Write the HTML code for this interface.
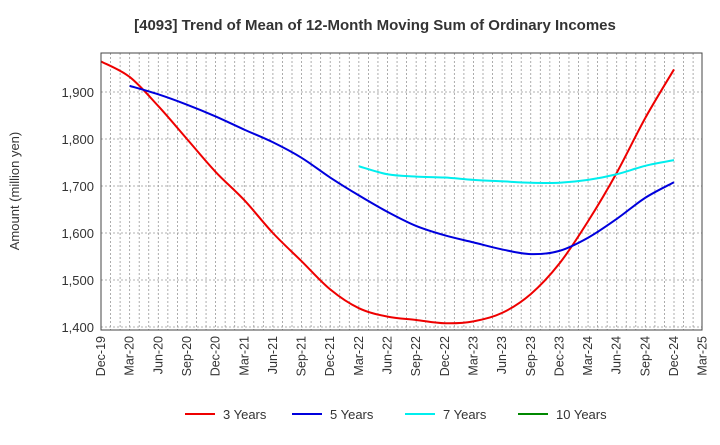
<!DOCTYPE html>
<html><head><meta charset="utf-8"><style>
body{margin:0;background:#fff;font-family:"Liberation Sans",Arial,sans-serif}
svg text{font-family:"Liberation Sans",Arial,sans-serif}
</style></head><body>
<svg width="720" height="440" viewBox="0 0 720 440">
<text x="375" y="30" text-anchor="middle" font-size="15" font-weight="bold" fill="#333">[4093]  Trend of Mean of 12-Month Moving Sum of Ordinary Incomes</text>
<g id="grid"></g>
<g id="yticks"></g>
<g id="xticks"></g>
<g id="series"></g>
<rect x="101" y="53" width="601" height="277" fill="none" stroke="#444" stroke-width="1"/>
<text transform="translate(19,191) rotate(-90)" text-anchor="middle" font-size="13" fill="#333">Amount (million yen)</text>
<g>
<g><line x1="185" y1="414" x2="215" y2="414" stroke="#e00" stroke-width="2"/><text x="223" y="419" font-size="13" fill="#333">3 Years</text></g>
<g><line x1="292" y1="414" x2="322" y2="414" stroke="#00d" stroke-width="2"/><text x="330" y="419" font-size="13" fill="#333">5 Years</text></g>
<g><line x1="405" y1="414" x2="435" y2="414" stroke="#0ee" stroke-width="2"/><text x="443" y="419" font-size="13" fill="#333">7 Years</text></g>
<g><line x1="518" y1="414" x2="548" y2="414" stroke="#080" stroke-width="2"/><text x="556" y="419" font-size="13" fill="#333">10 Years</text></g>
</g>
</svg>
<script>
const xLabels=["Dec-19","Mar-20","Jun-20","Sep-20","Dec-20","Mar-21","Jun-21","Sep-21","Dec-21","Mar-22","Jun-22","Sep-22","Dec-22","Mar-23","Jun-23","Sep-23","Dec-23","Mar-24","Jun-24","Sep-24","Dec-24","Mar-25"];
const yTicks=[1400,1500,1600,1700,1800,1900];
const s3=[1965,1932,1870,1800,1730,1670,1600,1540,1480,1440,1422,1415,1408,1412,1430,1470,1535,1625,1728,1845,1948];
const s5=[null,1913,1895,1873,1848,1820,1793,1760,1718,1680,1645,1615,1595,1580,1565,1555,1562,1590,1630,1675,1708];
const s7=[null,null,null,null,null,null,null,null,null,1742,1725,1720,1718,1713,1710,1707,1707,1713,1725,1743,1755];
const NS="http://www.w3.org/2000/svg";
function xq(i){return 101+i*3*9.55;}
function xm(m){return 101+m*9.55;}
function y(v){return 327-(v-1400)*0.47;}
function mk(t,a){const e=document.createElementNS(NS,t);for(const k in a)e.setAttribute(k,a[k]);return e;}
const grid=document.getElementById('grid');
for(let m=1;m<63;m++){const l=mk('line',{x1:xm(m),x2:xm(m),y1:53,y2:330,stroke:'#999','stroke-dasharray':'2,2','stroke-width':0.8});


grid.appendChild(l);}
const yt=document.getElementById('yticks');
yTicks.forEach(v=>{const l=mk('line',{x1:101,x2:702,y1:y(v),y2:y(v),stroke:'#999','stroke-dasharray':'2,2','stroke-width':0.8});


grid.appendChild(l);
const t=mk('text',{x:94,y:y(v)+5,'text-anchor':'end','font-size':13,fill:'#333'});t.textContent=v.toLocaleString('en-US');


yt.appendChild(t);});
const xt=document.getElementById('xticks');
xLabels.forEach((lb,i)=>{const t=mk('text',{transform:`translate(${xq(i)+4},336) rotate(-90)`,'text-anchor':'end','font-size':12.5,fill:'#333'});t.textContent=lb;


xt.appendChild(t);});
function path(arr,col,name){const p=[];arr.forEach((v,i)=>{if(v!=null)p.push([xq(i),y(v)]);});
let d=`M${p[0][0]},${p[0][1]}`;
for(let i=0;i<p.length-1;i++){const p0=p[i-1]||p[i],p1=p[i],p2=p[i+1],p3=p[i+2]||p2;
d+=` C${p1[0]+(p2[0]-p0[0])/6},${p1[1]+(p2[1]-p0[1])/6} ${p2[0]-(p3[0]-p1[0])/6},${p2[1]-(p3[1]-p1[1])/6} ${p2[0]},${p2[1]}`;}
const e=mk('path',{d:d,fill:'none',stroke:col,'stroke-width':2});


document.getElementById('series').appendChild(e);}
path(s3,'#e00','line-3-years');
path(s5,'#00d','line-5-years');
path(s7,'#0ee','line-7-years');
</script>
</body></html>
